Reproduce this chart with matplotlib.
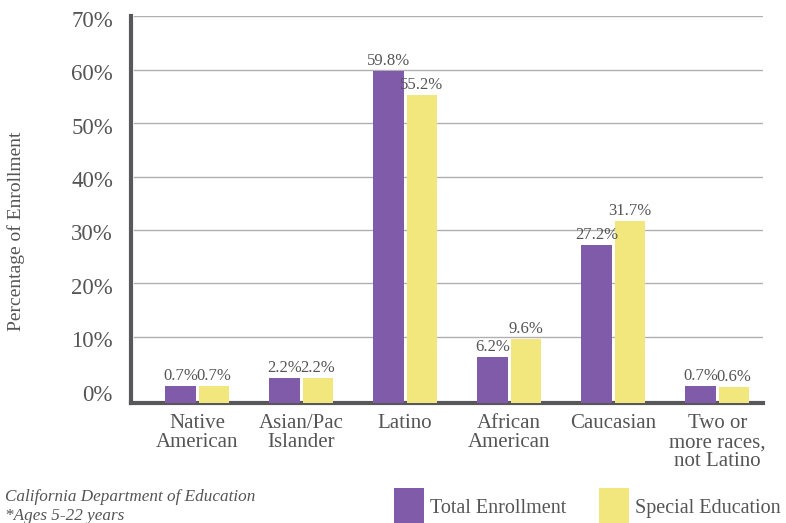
import matplotlib.pyplot as plt
import numpy as np

categories = [
    "Native\nAmerican",
    "Asian/Pac\nIslander",
    "Latino",
    "African\nAmerican",
    "Caucasian",
    "Two or\nmore races,\nnot Latino",
]
total_enrollment = [0.7, 2.2, 59.8, 6.2, 27.2, 0.7]
special_education = [0.7, 2.2, 55.2, 9.6, 31.7, 0.6]
y_ticks = [0, 10, 20, 30, 40, 50, 60, 70]

purple = "#7f5ba9"
yellow = "#f2e77c"
text_gray = "#555555"
axis_gray = "#58585a"
grid_gray = "#b0b0b0"

plt.rcParams["font.family"] = ["Liberation Serif", "DejaVu Serif"]

fig = plt.figure(figsize=(7.86, 5.23), dpi=100)
ax = fig.add_axes([0.1667, 0.2294, 0.804, 0.7391])

y_min = -2.4
x = np.arange(len(categories))
width = 0.29
gap = 0.015

# bars rise from the axis line, like the original
bars1 = ax.bar(x - width / 2 - gap, np.array(total_enrollment) - y_min,
               width, bottom=y_min, color=purple, zorder=3)
bars2 = ax.bar(x + width / 2 + gap, np.array(special_education) - y_min,
               width, bottom=y_min, color=yellow, zorder=3)

for bars, vals in [(bars1, total_enrollment), (bars2, special_education)]:
    for b, v in zip(bars, vals):
        ax.text(b.get_x() + b.get_width() / 2, v + 0.4, "{:.1f}%".format(v),
                ha="center", va="bottom", fontsize=12, color=text_gray)

ax.set_xlim(-0.635, 5.44)
ax.set_ylim(y_min, 70)
# labels sit a touch below their gridline in the original
ax.set_yticks([t - 0.9 for t in y_ticks])
ax.set_yticklabels(["{}%".format(t) for t in y_ticks], fontsize=16.5,
                   color=text_gray, va="center")
ax.tick_params(axis="y", length=0, pad=13)
ax.set_xticks(x)
ax.set_xticklabels(categories, fontsize=15, color=text_gray, linespacing=1.0)
ax.tick_params(axis="x", length=0, pad=8)

for t in y_ticks[1:]:
    ax.axhline(t, color=grid_gray, lw=1, zorder=1, xmin=0.005)

for side in ["top", "right"]:
    ax.spines[side].set_visible(False)
for side in ["left", "bottom"]:
    ax.spines[side].set_color(axis_gray)
    ax.spines[side].set_linewidth(3)

ax.set_ylabel("Percentage of Enrollment", fontsize=14, color=text_gray)
ax.yaxis.set_label_coords(-0.168, 0.445)

fig.legend(
    [bars1[0], bars2[0]],
    ["Total Enrollment", "Special Education"],
    loc="lower left",
    bbox_to_anchor=(394 / 786, -0.004),
    ncol=2,
    frameon=False,
    fontsize=14.5,
    borderpad=0,
    borderaxespad=0,
    handlelength=1.5,
    handleheight=2.45,
    handletextpad=0.3,
    columnspacing=1.6,
    labelcolor=text_gray,
)

fig.text(0.006, 0.0497, "California Department of Education", fontsize=12.3,
         style="italic", color=text_gray, va="center")
fig.text(0.006, 0.006, "*Ages 5-22 years", fontsize=12.3, style="italic",
         color=text_gray, va="baseline")

fig.savefig("out.png", dpi=100)
